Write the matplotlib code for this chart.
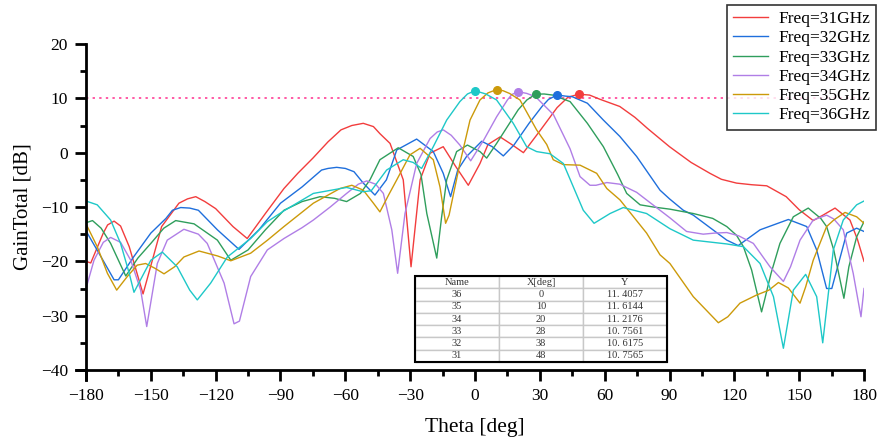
import matplotlib
matplotlib.use("Agg")
import matplotlib.pyplot as plt
from matplotlib.ticker import MultipleLocator
from matplotlib.patches import Rectangle

plt.rcParams['font.family'] = ['Liberation Serif', 'DejaVu Serif']

# ---------------- data ----------------
labels = ["Freq=31GHz", "Freq=32GHz", "Freq=33GHz", "Freq=34GHz", "Freq=35GHz", "Freq=36GHz"]
colors = ["#f23d3d", "#1f6fdc", "#2f9e5c", "#b07ee6", "#cc9a0a", "#1ec8c8"]

th31 = [-180, -177.8, -172, -170, -167, -164, -160, -153.6, -145, -137, -133, -129.2, -125, -120, -112, -105.4,
        -97, -88.4, -82, -75, -68, -62, -57, -51.7, -47, -44, -39.3, -33.2, -29.6, -25.4, -20.8, -14.7, -9,
        -3.1, 2.3, 6, 11.6, 17, 22.4, 30, 38, 43, 48, 53, 58, 67, 74, 80, 90, 100, 108.7, 114, 121, 128, 135,
        144, 150, 156.5, 161, 166.6, 173.5, 177, 180]
g31 = [-20.0, -20.3, -14.8, -13.3, -12.6, -13.5, -17.3, -26.0, -13.6, -9.3, -8.5, -8.1, -9.0, -10.3, -13.6, -15.8,
       -11.2, -6.6, -3.8, -1.0, 2.0, 4.2, 5.0, 5.4, 4.8, 3.5, 1.7, -5.0, -21.0, -5.0, -0.1, 1.1, -2.5,
       -6.0, -2.0, 1.5, 2.9, 1.5, 0.0, 4.0, 8.3, 10.2, 10.76, 10.6, 9.8, 8.5, 6.5, 4.4, 1.1, -1.8, -3.8, -4.9, -5.6, -5.9, -6.1,
       -8.1, -10.5, -12.5, -11.5, -10.2, -12.4, -16.0, -20.0]

th32 = [-180, -173, -167, -165, -158, -150, -143, -140, -136.2, -132, -128, -119.2, -109.2, -100, -90, -80, -71,
        -68, -64, -60, -56, -51.7, -46.3, -41, -36.2, -27, -19.3, -14.7, -11.3, -8, -3.9, 3.1, 8, 13.1, 18, 25,
        31, 34, 38, 42, 45, 52, 59.4, 67, 74.8, 85.6, 90, 96.4, 101, 116.5, 121.8, 131.9, 145, 153.5, 158.1,
        162.7, 165.1, 172, 176.6, 180]
g32 = [-14.4, -19.2, -23.4, -23.4, -19.2, -14.8, -12.1, -10.6, -10.1, -10.2, -10.6, -14.2, -17.8, -14.2, -9.3, -6.3, -3.2,
       -2.9, -2.7, -2.9, -3.5, -5.6, -7.8, -5.0, 0.5, 2.5, 0.2, -3.8, -8.1, -3.2, -0.7, 2.1, 1.1, -0.6, 1.4, 5.4,
       8.5, 9.8, 10.62, 10.4, 10.3, 9.1, 6.0, 3.0, -0.7, -6.9, -8.5, -10.6, -11.5, -16.1, -17.1, -14.2, -12.3, -13.6, -17.9,
       -25.0, -25.0, -14.8, -13.9, -14.5]

th33 = [-180, -177, -173, -168.6, -165, -161.6, -156, -150, -144, -138.5, -130, -119.2, -113, -105, -97,
        -88.4, -80, -71.7, -65, -59.4, -53, -48.6, -44, -35.5, -28.6, -25, -22.3, -17.7, -15.5, -13.1, -8.5,
        -3.5, 2.3, 5.4, 10, 15, 20, 24, 28, 32, 36, 44, 52, 59.4, 66, 70.2, 76.4, 82.5, 90.2, 101, 110, 116.5, 121,
        124.2, 128, 132.6, 134, 137, 141.1, 147.3, 154.2, 160, 162.7, 166, 170.7, 173, 176.6, 180]
g33 = [-12.9, -12.5, -13.9, -16.7, -19.8, -22.7, -19.4, -16.7, -13.9, -12.5, -13.1, -16.1, -19.8, -17.9, -14.2,
       -10.6, -9.0, -8.1, -8.4, -9.0, -7.5, -5.0, -1.3, 0.9, -0.7, -4.0, -11.2, -19.4, -12.0, -5.0, 0.2,
       1.4, 0.2, -1.0, 1.7, 4.8, 7.9, 9.7, 10.76, 10.8, 10.6, 9.4, 5.4, 1.1, -4.0, -7.5, -9.6, -10.0, -10.4, -11.2, -12.1, -13.6, -15.2,
       -17.3, -21.6, -29.3, -27.1, -22.2, -16.7, -11.8, -10.2, -12.1, -13.6, -17.9, -26.8, -21.0, -15.5, -12.7]

th34 = [-180, -176.3, -172, -168.6, -164, -159.3, -154.7, -151.9, -147, -142.4, -134.7, -128, -123.9, -116.1,
        -111.5, -109, -103.8, -96.1, -88.4, -80, -74.8, -67, -59.4, -54, -50.1, -46, -42.4, -38.5, -35.8, -32.4, -27,
        -20.8, -17.5, -14.7, -11, -7, -2, 4, 10, 15, 17, 20, 24, 28, 36.3, 44, 48.6, 53.2, 56, 61, 67, 74.8, 82, 90.2, 97.9,
        105.6, 111, 116.5, 122, 128.8, 136.5, 142.7, 146, 150.4, 156.5, 162.7, 166, 170.4, 175, 178.6, 180]
g34 = [-25.0, -19.8, -16.5, -15.6, -16.5, -19.8, -25.3, -32.0, -20.4, -16.1, -14.1, -15.0, -16.7, -24.0,
       -31.5, -31.0, -22.8, -17.9, -15.8, -13.8, -12.4, -10.0, -7.5, -5.8, -5.2, -5.8, -7.5, -14.2, -22.2, -11.2, -2.0,
       2.6, 3.8, 4.2, 3.2, 1.4, -1.5, 2.3, 6.6, 9.7, 10.7, 11.22, 10.9, 10.3, 7.0, 0.7, -4.4, -6.0, -6.0, -5.5, -5.8, -7.3, -9.5, -12.0, -14.5,
       -15.0, -14.8, -14.7, -15.3, -16.7, -21.0, -23.7, -21.0, -16.1, -12.4, -11.5, -12.2, -14.2, -22.2, -30.2, -25.0]

th35 = [-180, -174.8, -170.1, -165.8, -160.9, -156.3, -152.4, -148, -143.9, -139, -134.7, -127.7, -119.2,
        -113, -103.8, -96, -88.4, -74.8, -62.5, -57, -51.7, -47, -44, -40, -36.2, -30.1, -25.4, -19.3,
        -16.2, -13.6, -12, -7, -2.3, 2.3, 6, 10, 13, 16, 20.8, 28.5, 33.2, 36.2, 40.9, 48.6, 56.3, 61, 67.1, 79.4,
        85.6, 90.2, 101, 112.6, 117, 122.6, 130.3, 136, 140.4, 145, 150.4, 153, 156.5, 162.7, 166, 171.2, 176.6, 180]
g35 = [-13.1, -17.3, -22.2, -25.3, -22.8, -20.7, -20.4, -21.3, -22.3, -21.0, -19.2, -18.1, -19.0,
       -19.9, -18.5, -16.1, -13.6, -9.3, -6.6, -6.0, -6.9, -9.3, -10.9, -7.8, -5.0, -0.4, 0.8, -1.3,
       -6.3, -13.0, -11.5, -2.0, 6.0, 9.7, 11.0, 11.61, 11.4, 10.9, 9.7, 4.2, 1.5, -1.3, -2.2, -2.3, -3.8, -6.6, -8.7, -14.8,
       -18.8, -20.4, -26.5, -31.3, -30.2, -27.7, -26.2, -25.3, -23.9, -24.9, -27.7, -24.7, -19.8, -13.6, -12.4, -11.0, -11.8, -13.0]

th36 = [-180, -174.8, -168.6, -164, -160, -157.8, -153.2, -150, -144.7, -137.8, -132, -128.5, -122.3, -114.6,
        -103.8, -96.1, -88.4, -74.8, -59.4, -51.7, -48, -40.9, -33.2, -28.6, -24.7, -19.3, -13.1, -7, -3.5, 0, 5,
        10, 17.7, 23.9, 28.5, 34.7, 40.9, 45.5, 50.1, 55.1, 62.5, 68.6, 79.4, 90.2, 101, 116.5, 124.2, 131.9,
        138.1, 142.7, 147.3, 153, 158.1, 160.9, 165.8, 170.4, 176.6, 180]
g36 = [-8.9, -9.6, -12.4, -16.7, -22.2, -25.7, -22.2, -19.8, -18.3, -21.0, -25.3, -27.1, -24.0, -19.2,
       -15.8, -12.7, -10.7, -7.5, -6.4, -7.2, -7.0, -3.2, -1.3, -1.8, -2.9, 1.1, 6.0, 9.4, 10.8, 11.41, 10.8,
       9.7, 5.4, 1.1, 0.2, -0.2, -2.0, -6.3, -10.6, -13.0, -11.2, -10.1, -11.2, -14.0, -16.1, -16.8, -17.3, -20.4,
       -26.5, -36.0, -25.3, -22.4, -26.5, -35.0, -17.9, -12.4, -9.6, -8.9]

thetas = [th31, th32, th33, th34, th35, th36]
gains = [g31, g32, g33, g34, g35, g36]

# peak markers (table)
mk_names = ["36", "35", "34", "33", "32", "31"]
mk_x = [0, 10, 20, 28, 38, 48]
mk_y = [11.4057, 11.6144, 11.2176, 10.7561, 10.6175, 10.7565]
mk_colors = ["#1ec8c8", "#cc9a0a", "#b07ee6", "#2f9e5c", "#1f6fdc", "#f23d3d"]

ref_level = 10

# ---------------- figure ----------------
fig = plt.figure(figsize=(8.78, 4.43), dpi=100)
ax = fig.add_axes([86/878, 1-370/443, 778/878, 326/443])

ax.axhline(ref_level, color="#ff5aa5", lw=1.4, ls=(0, (1.2, 2.2)), zorder=1)

handles = []
for th, g, c, lab in zip(thetas, gains, colors, labels):
    h, = ax.plot(th, g, color=c, lw=1.0, label=lab, zorder=2,
                 solid_joinstyle="round", antialiased=True)
    handles.append(h)

for x, y, c in zip(mk_x, mk_y, mk_colors):
    ax.plot([x], [y], 'o', color=c, ms=5.5, zorder=3)

ax.set_xlim(-180, 180)
ax.set_ylim(-40, 20)
ax.xaxis.set_major_locator(MultipleLocator(30))
ax.xaxis.set_minor_locator(MultipleLocator(15))
ax.yaxis.set_major_locator(MultipleLocator(10))
ax.yaxis.set_minor_locator(MultipleLocator(5))

for s in ["top", "right"]:
    ax.spines[s].set_visible(False)
for s in ["left", "bottom"]:
    ax.spines[s].set_linewidth(2)
ax.spines["left"].set_bounds(-41.8, 20)
ax.spines["bottom"].set_bounds(-184.6, 180)

ax.tick_params(which="major", direction="out", length=8, width=2, labelsize=12.5, pad=5)
ax.tick_params(which="minor", direction="out", length=4.5, width=2)

ax.set_xlabel("Theta [deg]", fontsize=15.5, labelpad=10)
ax.set_ylabel("GainTotal [dB]", fontsize=15, labelpad=6)

# table
cell_text = [[n, str(x), f"{y:.4f}".replace(".", ". ")] for n, x, y in zip(mk_names, mk_x, mk_y)]
tbl = ax.table(cellText=cell_text, colLabels=["Name", "X[deg]", "Y"], cellLoc="center",
               bbox=[(415-86)/778, (370-362)/326, (667-415)/778, (362-276)/326], zorder=5)
tbl.auto_set_font_size(False)
tbl.set_fontsize(7.5)
for (r, cidx), cell in tbl.get_celld().items():
    cell.set_edgecolor("#c8c8c8")
    cell.set_linewidth(1.0)
    cell.set_facecolor("white")
    cell.get_text().set_color("#333333")
ax.add_patch(Rectangle(((415-86)/778, (370-362)/326), (667-415)/778, (362-276)/326,
                       transform=ax.transAxes, fill=False, ec="black", lw=1.5, zorder=6, clip_on=False))

leg = fig.legend(handles=handles, loc="upper right", bbox_to_anchor=(0.998, 0.989),
                 fontsize=12.5, frameon=True, fancybox=False, edgecolor="black",
                 handlelength=2.0, handletextpad=0.6, labelspacing=0.18, borderpad=0.35,
                 borderaxespad=0)
leg.get_frame().set_linewidth(1.2)

fig.savefig("out.png", dpi=100)
